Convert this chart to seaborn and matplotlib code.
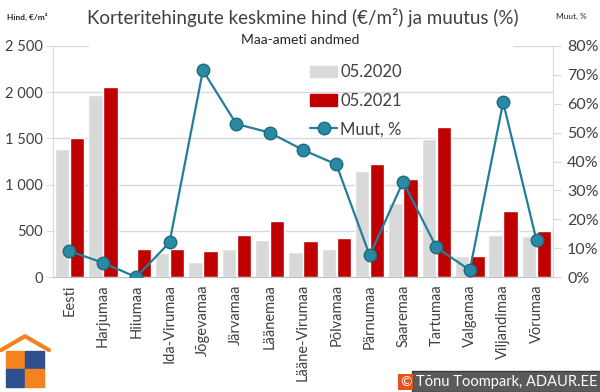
import seaborn as sns
import numpy as np
import pandas as pd
import matplotlib.pyplot as plt
import matplotlib.patches as mpatches
from matplotlib.lines import Line2D
from matplotlib.ticker import FuncFormatter, MultipleLocator

# data
counties = ["Eesti", "Harjumaa", "Hiiumaa", "Ida-Virumaa", "Jõgevamaa", "Järvamaa", "Läänemaa",
            "Lääne-Virumaa", "Põlvamaa", "Pärnumaa", "Saaremaa", "Tartumaa", "Valgamaa",
            "Viljandimaa", "Võrumaa"]
price_2020 = [1382, 1970, 0, 263, 166, 303, 404, 270, 303, 1147, 797, 1497, 227, 455, 440]
price_2021 = [1500, 2058, 303, 300, 285, 458, 606, 386, 422, 1223, 1064, 1623, 227, 714, 498]
change_pct = [9.0, 5.0, 0.0, 12.0, 71.5, 53.0, 50.0, 44.0, 39.0, 7.5, 33.0, 10.3, 2.4, 60.5, 12.7]
periods = ["05.2020", "05.2021"]

sns.set_style("white")
plt.rcParams['font.family'] = ['Lato', 'DejaVu Sans']

GRAY = "#D9D9D9"
RED = "#C00000"
TEAL = "#237F99"
AXC = "#D9D9D9"

df = pd.DataFrame({
    "county": counties * 2,
    "price": price_2020 + price_2021,
    "period": [periods[0]] * len(counties) + [periods[1]] * len(counties),
})

fig = plt.figure(figsize=(6, 3.92), dpi=100)
ax = fig.add_axes([0.088, 0.293, 0.834, 0.590])

sns.barplot(data=df, x="county", y="price", hue="period", palette=[GRAY, RED],
            width=0.9, gap=0.04, ax=ax, legend=False, saturation=1)
ax.set_ylim(0, 2500)
ax.set_xlim(-0.5, len(counties) - 0.5)
ax.yaxis.set_major_locator(MultipleLocator(500))
ax.yaxis.set_major_formatter(FuncFormatter(lambda v, p: f"{int(v):,}".replace(",", " ")))
for y in [500, 1000, 1500, 2000]:
    ax.axhline(y, color=AXC, lw=1, zorder=0)
ax.axhline(2500, xmax=0.07, color=AXC, lw=1, zorder=0)
ax.axhline(2500, xmin=0.92, color=AXC, lw=1, zorder=0)
ax.set_xlabel(None)
ax.set_ylabel(None)
for s in ["top", "right"]:
    ax.spines[s].set_visible(False)
ax.spines["left"].set_color(AXC)
ax.spines["bottom"].set_color("#BFBFBF")
ax.tick_params(axis="y", labelsize=10.5, colors="#404040", length=5, color=AXC, pad=2)
ax.tick_params(axis="x", labelsize=10.5, colors="#404040", length=0, rotation=90, pad=5)

ax2 = ax.twinx()
sns.lineplot(x=list(range(len(counties))), y=change_pct, ax=ax2, color=TEAL, lw=1.6,
             marker="o", markersize=9, markerfacecolor="#2A8AA5", markeredgecolor="#1B6A80",
             markeredgewidth=1, sort=False)
ax2.set_ylim(0, 80)
ax2.yaxis.set_major_locator(MultipleLocator(10))
ax2.yaxis.set_major_formatter(FuncFormatter(lambda v, p: f"{int(v)}%"))
ax2.tick_params(axis="y", labelsize=11.5, colors="#404040", length=6, color=AXC, pad=4)
for s in ["top", "left", "bottom"]:
    ax2.spines[s].set_visible(False)
ax2.spines["right"].set_color(AXC)
ax2.set_ylabel(None)

handles = [mpatches.Patch(color=GRAY), mpatches.Patch(color=RED),
           Line2D([], [], color=TEAL, lw=1.6, marker="o", markersize=9,
                  markerfacecolor="#2A8AA5", markeredgecolor="#1B6A80")]
ax2.legend(handles, periods + ["Muut, %"], loc="upper left", bbox_to_anchor=(0.485, 0.985),
           frameon=False, fontsize=12, labelspacing=0.75, handlelength=1.6,
           handletextpad=0.2, labelcolor="#404040")

fig.text(0.505, 0.955, "Korteritehingute keskmine hind (€/m²) ja muutus (%)", ha="center",
         va="center", fontsize=13.5, color="#404040")
fig.text(0.5, 0.898, "Maa-ameti andmed", ha="center", va="center", fontsize=10, color="#262626")
fig.text(0.045, 0.957, "Hind, €/m²", ha="center", va="center", fontsize=6, weight="bold",
         color="#262626")
fig.text(0.952, 0.957, "Muut, %", ha="center", va="center", fontsize=6, color="#262626")

# logo
lg = fig.add_axes([0.0, 0.0, 0.085, 0.15])
lg.set_xlim(0, 51)
lg.set_ylim(0, 59)
lg.axis("off")
ORG = "#F58220"
BLU = "#2F4F8F"
lg.plot([1, 25, 49], [42, 56, 42], color=ORG, lw=3, solid_capstyle="round", clip_on=False)
lg.add_patch(mpatches.Rectangle((6, 23), 19, 18, color=ORG))
lg.add_patch(mpatches.Rectangle((25, 23), 19, 18, color=BLU))
lg.add_patch(mpatches.Rectangle((6, 5), 19, 18, color=BLU))
lg.add_patch(mpatches.Rectangle((25, 5), 19, 18, color=ORG))

fig.text(0.676, 0.026, "©", ha="center", va="center", fontsize=10, color="white",
         bbox=dict(boxstyle="square,pad=0.15", fc="#E8501C", ec="none"), zorder=5)
fig.text(0.693, 0.026, "Tõnu Toompark, ADAUR.EE", ha="left", va="center", fontsize=10.5,
         color="white", bbox=dict(boxstyle="square,pad=0.25", fc="#5A5A5A", ec="#3A3A3A"))

fig.savefig("out.png", dpi=100)
